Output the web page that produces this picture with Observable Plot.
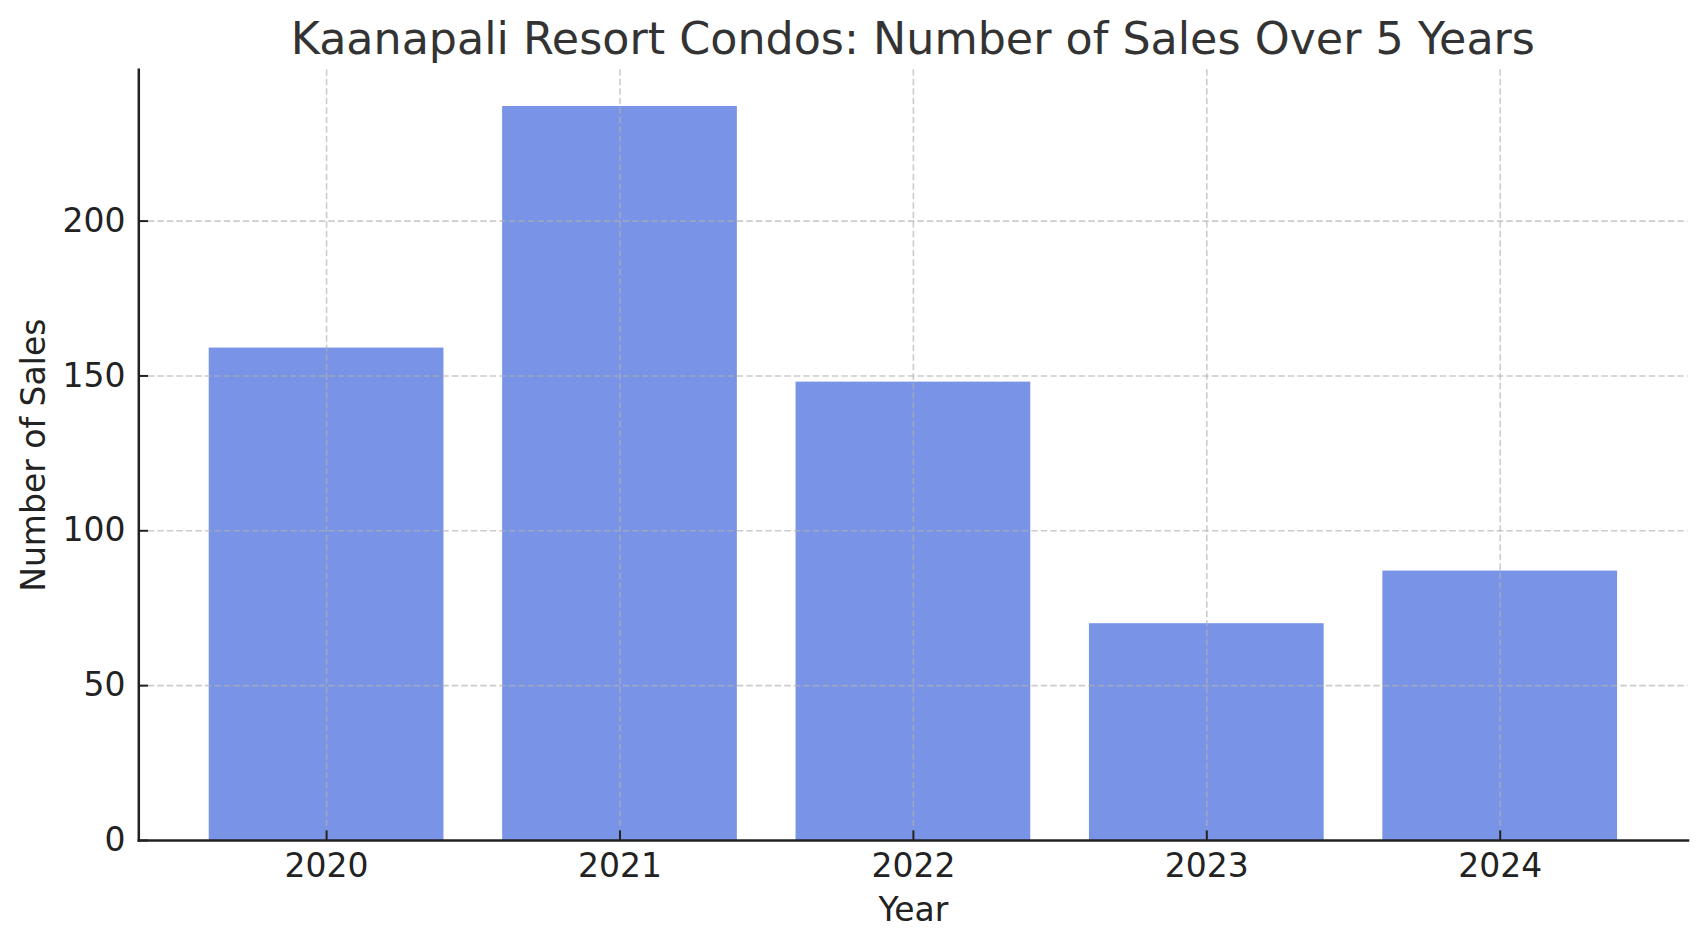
<!DOCTYPE html>
<html>
<head>
<meta charset="utf-8">
<script src="https://cdn.jsdelivr.net/npm/d3@7"></script>
<script src="https://cdn.jsdelivr.net/npm/@observablehq/plot@0.6"></script>
<style>
  html, body { margin: 0; padding: 0; background: #fff; }
  #wrap { width: 1707px; height: 947px; position: relative; overflow: hidden; }
  #title {
    width: 1707px; height: 64px; box-sizing: border-box;
    padding-top: 16.5px; padding-left: 138.3px; padding-right: 19.5px;
    font-family: "DejaVu Sans", sans-serif; font-size: 44.4px; line-height: 1;
    color: #333333; text-align: center; white-space: nowrap;
  }
  svg { display: block; }
</style>
</head>
<body>
<div id="wrap">
  <div id="title">Kaanapali Resort Condos: Number of Sales Over 5 Years</div>
  <div id="chart"></div>
</div>
<script>
const years = ["2020", "2021", "2022", "2023", "2024"];
const sales = [159, 237, 148, 70, 87];
const yTicks = [0, 50, 100, 150, 200];
const xLabel = "Year";
const yLabel = "Number of Sales";

const data = years.map((y, i) => ({year: y, sales: sales[i]}));

const W = 1707, H = 947 - 64;
const ink = "#222222";
const gridOpts = {stroke: "#b0b0b0", strokeOpacity: 0.65, strokeWidth: 1.6, strokeDasharray: "6.5,3"};

const chart = Plot.plot({
  width: W,
  height: H,
  marginLeft: 138.3,
  marginRight: 19.5,
  marginTop: 5.3,
  marginBottom: H - 776,
  style: {fontFamily: "DejaVu Sans, sans-serif", fontSize: "33px", color: ink, background: "#fff", overflow: "visible"},
  x: {type: "band", domain: years, paddingInner: 0.2, paddingOuter: 0.24, round: false, label: null},
  y: {domain: [0, 237 * 1.05], label: null},
  marks: [
    Plot.barY(data, {x: "year", y: "sales", fill: "#7994e7"}),
    Plot.gridX(years, {...gridOpts}),
    Plot.gridY(yTicks.slice(1), {...gridOpts}),
    Plot.axisY(yTicks, {tickSize: 0, tickPadding: 13.3, label: null, fill: ink, fontSize: 33}),
    Plot.axisY(yTicks, {tickSize: -9.7, tickFormat: () => "", label: null, stroke: ink, strokeWidth: 2, strokeOpacity: 1}),
    Plot.axisX(years, {tickSize: 0, tickPadding: 12.6, label: null, fill: ink, fontSize: 33}),
    Plot.axisX(years, {tickSize: -9.7, tickFormat: () => "", label: null, stroke: ink, strokeWidth: 2, strokeOpacity: 1}),
    Plot.frame({anchor: "left", stroke: ink, strokeWidth: 2.5}),
    Plot.frame({anchor: "bottom", stroke: ink, strokeWidth: 2.5}),
    Plot.text([xLabel], {frameAnchor: "bottom", lineAnchor: "top", textAnchor: "middle", dy: 56.6, fill: ink, fontSize: 33}),
    Plot.text([yLabel], {frameAnchor: "left", textAnchor: "middle", rotate: -90, dx: -103.9, fill: ink, fontSize: 33})
  ]
});
document.getElementById("chart").appendChild(chart);
</script>
</body>
</html>
